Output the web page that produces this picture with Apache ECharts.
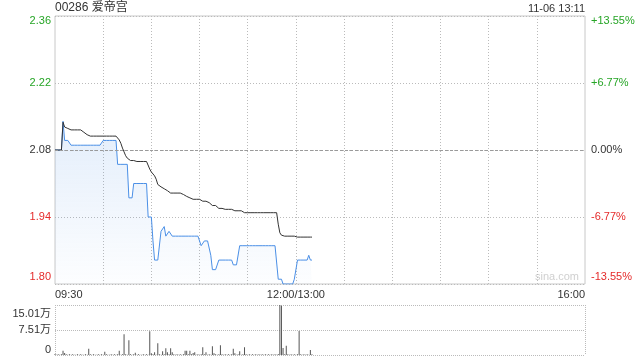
<!DOCTYPE html>
<html><head><meta charset="utf-8">
<script src="https://cdn.jsdelivr.net/npm/echarts@6/dist/echarts.min.js"></script>
<style>html,body{margin:0;padding:0;background:#fff}#c{width:640px;height:360px}</style>
</head><body><div id="c"></div>
<script>
const stockTitle = '00286 爱帝宫';
const timeStamp = '11-06 13:11';
const prevClose = 2.08;

// minute prices 09:30 .. 13:10 (index 0..160)
const price = [
2.08,2.08,2.08,2.08,2.08,2.14,2.10,2.10,2.10,2.10,
2.09,2.09,2.09,2.09,2.09,2.09,2.09,2.09,2.09,2.09,
2.09,2.09,2.09,2.09,2.09,2.09,2.09,2.09,2.09,2.09,
2.10,2.10,2.10,2.10,2.10,2.10,2.10,2.10,2.10,2.05,
2.05,2.05,2.05,2.05,2.05,2.05,1.98,1.98,1.98,2.01,
2.01,2.01,2.01,2.01,2.01,2.01,2.01,2.01,1.94,1.94,
1.94,1.89,1.85,1.85,1.85,1.85,1.91,1.91,1.92,1.90,
1.90,1.91,1.91,1.90,1.90,1.90,1.90,1.90,1.90,1.90,
1.90,1.90,1.90,1.90,1.90,1.90,1.90,1.90,1.90,1.90,
1.90,1.88,1.88,1.89,1.89,1.89,1.89,1.86,1.83,1.83,
1.83,1.83,1.85,1.85,1.85,1.85,1.85,1.85,1.85,1.85,
1.85,1.84,1.84,1.84,1.84,1.88,1.88,1.88,1.88,1.88,
1.88,1.88,1.88,1.88,1.88,1.88,1.88,1.88,1.88,1.88,
1.88,1.88,1.88,1.88,1.88,1.88,1.88,1.88,1.88,1.81,
1.81,1.81,1.80,1.80,1.80,1.80,1.80,1.80,1.80,1.81,
1.81,1.85,1.85,1.85,1.85,1.85,1.85,1.85,1.86,1.85,1.85
];
const avgPrice = [
2.080,2.080,2.080,2.080,2.080,2.138,2.128,2.126,2.125,2.123,
2.122,2.122,2.122,2.122,2.122,2.122,2.122,2.119,2.117,2.115,
2.112,2.109,2.109,2.109,2.109,2.109,2.109,2.109,2.109,2.109,
2.109,2.109,2.109,2.109,2.109,2.109,2.109,2.109,2.109,2.106,
2.101,2.094,2.084,2.076,2.068,2.063,2.060,2.058,2.058,2.058,
2.056,2.056,2.056,2.056,2.056,2.056,2.056,2.056,2.056,2.040,
2.034,2.030,2.026,2.019,2.008,2.005,2.003,2.001,1.999,1.997,
1.995,1.993,1.990,1.990,1.990,1.990,1.990,1.990,1.990,1.987,
1.987,1.987,1.983,1.980,1.980,1.980,1.977,1.977,1.977,1.977,
1.977,1.977,1.973,1.973,1.973,1.973,1.970,1.967,1.964,1.964,
1.964,1.961,1.958,1.958,1.958,1.956,1.956,1.956,1.956,1.956,
1.956,1.953,1.953,1.953,1.953,1.953,1.953,1.949,1.949,1.949,
1.949,1.949,1.949,1.949,1.949,1.949,1.949,1.949,1.949,1.949,
1.949,1.949,1.949,1.949,1.949,1.949,1.949,1.949,1.949,1.925,
1.907,1.902,1.900,1.900,1.900,1.900,1.900,1.900,1.900,1.900,
1.900,1.898,1.898,1.898,1.898,1.898,1.898,1.898,1.898,1.898,1.898
];
const volume = [
3000,1000,2000,1000,2000,13000,6000,2000,1000,2000,
1000,2000,1000,1000,2000,1000,2000,1000,1000,2000,
1000,19000,2000,1000,2000,1000,1000,2000,1000,2000,
1000,10000,2000,1000,1000,2000,1000,2000,1000,2000,
13000,1000,2000,62000,2000,1000,44000,2000,1000,2000,
7000,1000,2000,1000,1000,2000,1000,2000,1000,71000,
5000,2000,8000,1000,35000,2000,1000,11000,2000,20000,
8000,2000,20000,8000,2000,1000,2000,1000,2000,1000,
2000,13000,13000,2000,13000,2000,6000,8000,1000,2000,
1000,2000,23000,2000,8000,1000,2000,1000,26000,5000,
2000,1000,2000,29000,2000,1000,2000,1000,2000,1000,
2000,19000,5000,1000,2000,11000,1000,2000,23000,2000,
1000,2000,1000,2000,1000,2000,1000,2000,1000,2000,
1000,2000,1000,2000,1000,2000,1000,2000,1000,3000,
150100,148000,21000,2000,28000,2000,1000,2000,1000,2000,
1000,2000,72000,2000,1000,2000,1000,2000,1000,15000,2000
];

const priceTicks = ['1.80','1.94','2.08','2.22','2.36'];
const pctTicks = ['-13.55%','-6.77%','0.00%','+6.77%','+13.55%'];
const volTicks = ['0','7.51万','15.01万'];
const volMax = 150100;
const timeTickIndex = [0,150,330];
const timeTickText = ['09:30','12:00/13:00','16:00'];

const GREEN = '#26a526', RED = '#e52a2a', DARK = '#333';
const FONT = "'Liberation Sans', Arial, 'Noto Sans CJK SC', sans-serif";

// minute categories: 09:30..12:00, 13:01..16:00
const pad2 = n => (n < 10 ? '0' : '') + n;
const times = [];
for (let m = 570; m <= 720; m++) times.push(pad2(Math.floor(m/60)) + ':' + pad2(m%60));
for (let m = 781; m <= 960; m++) times.push(pad2(Math.floor(m/60)) + ':' + pad2(m%60));

const priceOff = price.map(p => +(p - prevClose).toFixed(4));
const avgOff = avgPrice.map(p => +(p - prevClose).toFixed(4));

const tickColor = i => (i < 2 ? RED : i === 2 ? DARK : GREEN);
function yLabel(txt, i, n) {
  if (i === n - 1) return '{t|' + txt + '}';
  if (i === 0) return '{b|' + txt + '}';
  return txt;
}
const DOT = {color: '#bbb', type: [1, 2], width: 1};

const chart = echarts.init(document.getElementById('c'), null, {renderer: 'canvas'});
chart.setOption({
  animation: false,
  textStyle: {fontFamily: FONT},
  title: [
    {text: stockTitle, left: 55, top: 2, padding: 0,
     textStyle: {fontSize: 12, fontWeight: 'normal', color: DARK, fontFamily: FONT}},
    {text: timeStamp, right: 55, top: 3, padding: 0,
     textStyle: {fontSize: 11, fontWeight: 'normal', color: DARK, fontFamily: FONT}}
  ],
  grid: [
    {left: 55, right: 55, top: 16, height: 268, show: true, borderColor: '#c8c8c8', borderWidth: 1, backgroundColor: 'transparent'},
    {left: 55, right: 55, top: 305, height: 50}
  ],
  xAxis: [
    {type: 'category', gridIndex: 0, data: times, boundaryGap: false,
     axisLine: {show: false}, axisTick: {show: false},
     axisLabel: {
       interval: (i) => timeTickIndex.indexOf(i) >= 0,
       formatter: (v, i) => timeTickText[timeTickIndex.indexOf(i)] || '',
       alignMinLabel: 'left', alignMaxLabel: 'right',
       color: DARK, fontSize: 11, fontFamily: FONT, margin: 5
     },
     splitLine: {show: true, interval: (i) => i % 30 === 0 && i !== 0 && i !== 330, lineStyle: DOT}
    },
    {type: 'category', gridIndex: 1, data: times, boundaryGap: false,
     axisLine: {show: false}, axisTick: {show: false}, axisLabel: {show: false},
     splitLine: {show: true, interval: (i) => i === 0 || i === 330,
       lineStyle: {color: '#bbb', type: [1, 1], width: 1}}
    }
  ],
  yAxis: [
    {type: 'value', gridIndex: 0, min: -0.28, max: 0.28, interval: 0.14, position: 'left',
     axisLine: {show: false}, axisTick: {show: false},
     axisLabel: {
       margin: 4, fontSize: 11, fontFamily: FONT,
       color: (v, i) => tickColor(i),
       formatter: (v, i) => yLabel(priceTicks[i], i, priceTicks.length),
       rich: {
         t: {color: GREEN, fontSize: 11, fontFamily: FONT, padding: [10, 0, 0, 0]},
         b: {color: RED, fontSize: 11, fontFamily: FONT, padding: [0, 0, 14, 0]}
       }
     },
     splitLine: {show: true, lineStyle: DOT}
    },
    {type: 'value', gridIndex: 0, min: -0.28, max: 0.28, interval: 0.14, position: 'right',
     axisLine: {show: false}, axisTick: {show: false},
     axisLabel: {
       margin: 6, fontSize: 11, fontFamily: FONT,
       color: (v, i) => tickColor(i),
       formatter: (v, i) => yLabel(pctTicks[i], i, pctTicks.length),
       rich: {
         t: {color: GREEN, fontSize: 11, fontFamily: FONT, padding: [10, 0, 0, 0]},
         b: {color: RED, fontSize: 11, fontFamily: FONT, padding: [0, 0, 14, 0]}
       }
     },
     splitLine: {show: false}
    },
    {type: 'value', gridIndex: 1, min: 0, max: volMax, interval: volMax / 2,
     axisLine: {show: false}, axisTick: {show: false},
     axisLabel: {
       margin: 4, fontSize: 11, fontFamily: FONT, color: DARK,
       formatter: (v, i) => i === 2 ? '{t|' + volTicks[i] + '}' : (i === 0 ? '{b|' + volTicks[i] + '}' : volTicks[i]),
       rich: {
         t: {color: DARK, fontSize: 11, fontFamily: FONT, padding: [17, 0, 0, 0]},
         b: {color: DARK, fontSize: 11, fontFamily: FONT, padding: [0, 0, 11, 0]}
       }
     },
     splitLine: {show: true, lineStyle: {color: '#bbb', type: [1, 1], width: 1}}
    }
  ],
  series: [
    {type: 'line', xAxisIndex: 0, yAxisIndex: 0, data: priceOff, symbol: 'none',
     lineStyle: {color: '#4a8fe6', width: 1},
     areaStyle: {origin: 'start', color: new echarts.graphic.LinearGradient(0, 0, 0, 1, [
       {offset: 0, color: 'rgba(74,143,230,0.22)'}, {offset: 1, color: 'rgba(74,143,230,0.02)'}])},
     markLine: {silent: true, symbol: 'none', label: {show: false},
       lineStyle: {color: '#9a9a9a', type: [3, 2], width: 1},
       data: [{yAxis: 0}]},
     z: 3
    },
    {type: 'line', xAxisIndex: 0, yAxisIndex: 0, data: avgOff, symbol: 'none',
     lineStyle: {color: '#333', width: 1}, z: 4},
    {type: 'bar', xAxisIndex: 1, yAxisIndex: 2, data: volume, barWidth: 1,
     itemStyle: {color: '#555'}}
  ],
  graphic: [
    {type: 'text', left: 535, top: 271, silent: true,
     style: {text: 'sina.com', fill: '#d0d0d0', fontSize: 11, fontFamily: FONT}}
  ]
});
</script>
</body></html>
